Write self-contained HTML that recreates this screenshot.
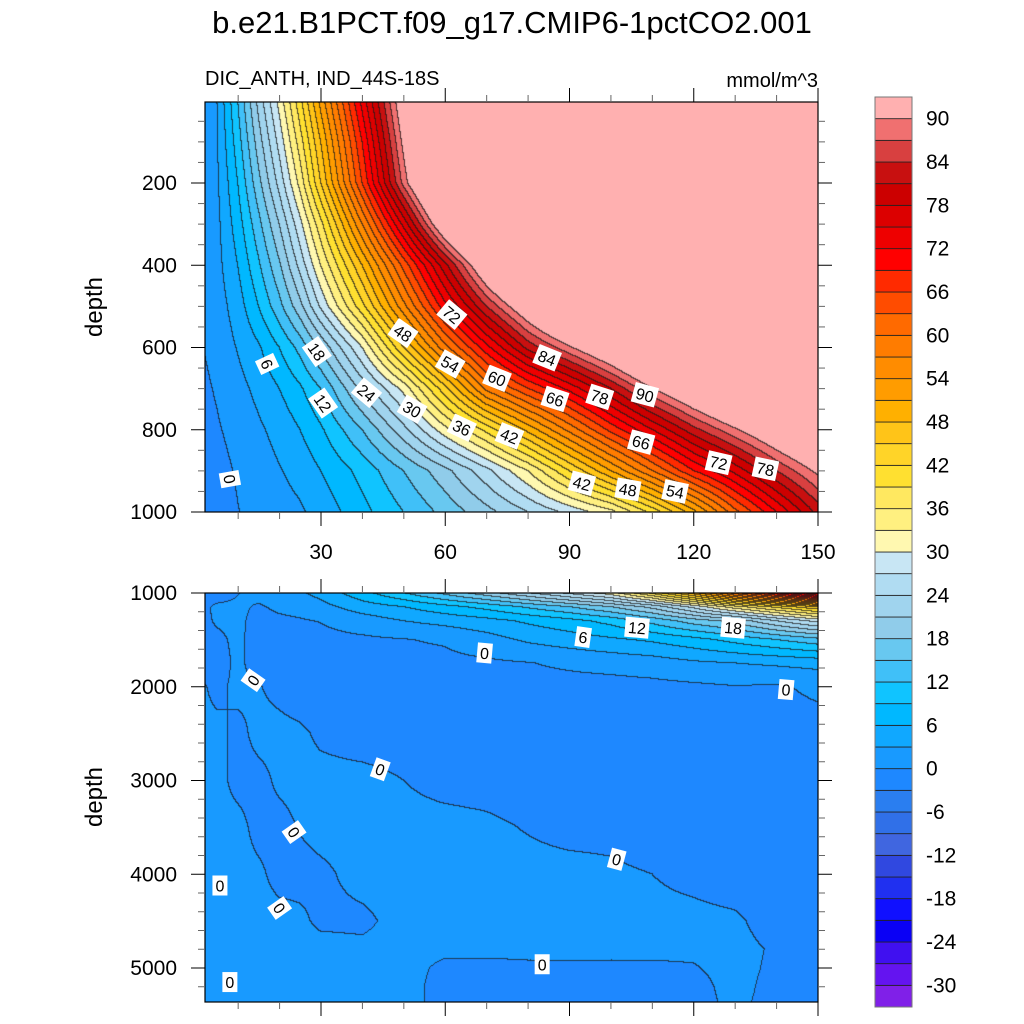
<!DOCTYPE html>
<html>
<head>
<meta charset="utf-8">
<style>
  html,body{margin:0;padding:0;background:#fff;}
  #root{position:relative;width:1024px;height:1024px;overflow:hidden;font-family:"Liberation Sans",sans-serif;}
  canvas{position:absolute;}
  svg{position:absolute;left:0;top:0;}
</style>
</head>
<body>
<div id="root">
  <canvas id="topCanvas" width="613" height="410" style="left:205px;top:102px;"></canvas>
  <canvas id="botCanvas" width="613" height="409" style="left:205px;top:593px;"></canvas>
  <svg id="overlay" width="1024" height="1024">
    <text x="512" y="33" font-size="31" text-anchor="middle" fill="#000">b.e21.B1PCT.f09_g17.CMIP6-1pctCO2.001</text>
    <text x="205" y="85" font-size="20" fill="#000">DIC_ANTH, IND_44S-18S</text>
    <text x="818" y="87" font-size="20" text-anchor="end" fill="#000">mmol/m^3</text>
    <text transform="translate(102,307) rotate(-90)" font-size="24" text-anchor="middle" fill="#000">depth</text>
    <text transform="translate(102,797) rotate(-90)" font-size="24" text-anchor="middle" fill="#000">depth</text>
    <g id="axesG"></g>
    <g id="labelsG"></g>
    <g id="cbarG"></g>
  </svg>
</div>
<script>
// ---------- DATA ----------
const timeCols = [0,5,10,15,20,25,30,40,50,60,70,80,90,100,110,120,130,140,150];
const topDepths = [0,100,200,300,400,500,600,700,800,900,1000];
const topValues = [
  [0.5,3,12,22,31,41,52,73,94,115,130,140,150,160,170,180,190,200,210],
  [0.4,2.8,10.5,19.5,28,37.5,48,69,91,111,127,138,148,158,168,178,188,198,208],
  [0.3,2.5,9,17,25,34,45,66,88,108,125,136,146,156,166,176,186,196,206],
  [0.2,2.2,7.5,14,21,29,38,57,76,96,113,128,140,150,160,170,180,190,200],
  [0,2,6,11.5,17.5,25,33,48,64,80,96,110,122,134,144,154,164,174,184],
  [-0.2,1.5,4.5,9,14,20,27.5,41,56,71,84,95,106,118,128,138,148,158,168],
  [-0.5,1,3.2,5.6,9,13,18.5,30,45,59,71,82,89.5,97,106,116,124,132,140],
  [-1,0.3,2,3.8,6,8.5,12,22,31,44,58,66,73,81,90,97,104,111,118],
  [-1.5,-0.3,1,2.5,4,6,8.5,15,23,32,40,49,58,67,75,83,89.5,96,102],
  [-2,-1,0.3,1.5,2.8,4,6,10,15,20,26,33,42,51,60,69,76,84,91],
  [-2,-1.5,-0.1,1,1.8,2.6,4,8,12,16,20,24,28,32,40,50,62,72,82]
];
const botDepths = [1000,1150,1300,1500,1750,2000,2500,3000,3500,4000,4500,4800,5000,5200,5400];
const botValues = [
  [-2,-1.5,-0.1,1,1.8,2.6,4,8,12,16,20,24,28,32,40,50,62,72,82],
  [-1,0.5,0.5,-0.3,0.5,0.8,2,4.5,6,8,10,12.5,15,18,22,28,35,40,45],
  [-1,0.3,0.5,-0.8,-0.5,-0.2,0.1,1.5,3,4,5,6.5,8,10,13,16.5,19,24,28],
  [-1,-0.5,0.5,-1,-1,-1,-0.8,-0.5,-0.1,0.3,1.8,3.5,4.5,5.5,6.5,8,10,12,14],
  [-1,-1,0.5,-1,-1,-1,-1,-0.8,-0.8,-0.7,-0.5,-0.1,0.5,1,1.5,2.5,3,3.5,4],
  [0.5,-0.5,0.5,0.1,-0.5,-1,-1,-1,-1,-1,-1,-1,-1,-1,-0.8,-0.5,-0.1,-0.3,0.5],
  [0.5,0.5,-0.5,0.5,0.5,0.3,-0.3,-0.8,-0.8,-1,-1,-1,-1,-1,-1,-1,-1,-1,-1],
  [0.5,0.5,-0.5,-0.5,0.3,0.5,0.5,0.5,0,-0.5,-0.6,-0.8,-1,-1,-1,-1,-1,-1,-1],
  [0.5,0.5,0.5,-0.5,-0.5,0.1,0.5,0.5,0.5,0.5,0.3,-0.1,-0.5,-0.5,-1,-1,-1,-1,-1],
  [0.5,0.5,0.5,0.3,-0.5,-0.5,-0.3,0.5,0.5,0.5,0.5,0.5,0.5,0.3,0,-0.5,-1,-1,-1],
  [0.5,0.5,0.5,0.5,0.5,0.3,-0.3,-0.3,0.5,0.5,0.5,0.5,0.5,0.5,0.5,0.5,0.3,-0.8,-1],
  [0.5,0.5,0.5,0.5,0.5,0.5,0.5,0.3,0.5,0.3,0.3,0.3,0.3,0.3,0.3,0.3,0.5,-0.2,-1],
  [0.5,0.5,0.5,0.5,0.5,0.5,0.5,0.5,0.5,-0.3,-0.3,-0.2,-0.2,-0.2,-0.2,-0.1,0.5,-0.3,-0.5],
  [0.5,0.5,0.5,0.5,0.5,0.5,0.5,0.5,0.5,-0.5,-0.5,-0.5,-0.5,-0.5,-0.5,-0.5,0.5,-0.5,-0.5],
  [0.5,0.5,0.5,0.5,0.5,0.5,0.5,0.5,0.5,-0.5,-0.5,-0.5,-0.5,-0.5,-0.5,-0.5,0.3,-0.5,-0.5]
];
const levelColors = ["#8020E8","#6414F0","#4010F0","#0A00F5","#1010FF","#2030F0","#3048E0","#4066E0","#3070E8","#2A7EF0","#1E88FF","#189AFF","#10A8FF","#00B8FF","#10C4FF","#40C0F8","#68C8F0","#90CCEA","#A0D4EE","#B0DCF2","#C8E6F4","#FFF8B0","#FFF080","#FFE860","#FFE030","#FFD428","#FFC418","#FFB000","#FF9C00","#FF8C00","#FF7C00","#FF6A00","#FF4C00","#FF2A00","#FF0000","#EE0000","#DC0000","#CC0000","#C81010","#D84040","#F07070","#FFB0B0"];
const cbarTickValues = [-30,-24,-18,-12,-6,0,6,12,18,24,30,36,42,48,54,60,66,72,78,84,90];
const xTickValues = [30,60,90,120,150];
const topYTicks = [200,400,600,800,1000];
const botYTicks = [1000,2000,3000,4000,5000];
const labelTexts = ["6","18","12","24","30","36","42","48","54","60","66","78","90","72","84","66","72","78","42","48","54","0",
                    "6","12","18","0","0","0","0","0","0","0","0","0","0"];
const labelPanels = ["t","t","t","t","t","t","t","t","t","t","t","t","t","t","t","t","t","t","t","t","t","t",
                     "b","b","b","b","b","b","b","b","b","b","b","b","b"];
const labelTimes = [17,29,30.5,41,52,64,75.5,49.8,61.2,72.5,86.5,97.3,108.2,61.6,84.6,107.3,126,137.3,93,104.1,115.5,8,
                    93.3,106.3,129.5,69.5,142.3,13.6,44.3,23.5,101.4,20,5.6,8,83.4];
const labelDepths = [640,610,735,710,750,795,815,565,640,675,725,720,715,520,625,830,880,895,930,945,950,920,
                     1470,1370,1370,1640,2030,1930,2880,3550,3840,4360,4120,5150,4960];
const labelAngles = [65,55,55,40,30,25,22,35,30,22,18,18,15,40,22,15,13,12,15,10,12,80,
                     8,5,5,5,5,-55,20,55,15,55,0,0,0];

// ---------- AXES ----------
const PX0 = 205, PX1 = 818;
const TOP_Y0 = 102, TOP_Y1 = 512, BOT_Y0 = 593, BOT_Y1 = 1002;
function xOf(t){ return 196.75 + t*4.1417; }
function tOf(x){ return (x-196.75)/4.1417; }
function yTop(z){ return 512 - (1000-z)*0.41125; }
function zTop(y){ return 1000 - (512-y)/0.41125; }
function yBot(z){ return 593 + (z-1000)*0.09375; }
function zBot(y){ return 1000 + (y-593)/0.09375; }

function locate(arr, v){
  if (v <= arr[0]) return [0,0];
  if (v >= arr[arr.length-1]) return [arr.length-2,1];
  let i=0; while (arr[i+1] < v) i++;
  return [i,(v-arr[i])/(arr[i+1]-arr[i])];
}
function interp(grid, rows, cols, z, t){
  const [r,fr] = locate(rows,z), [c,fc] = locate(cols,t);
  const a=grid[r][c], b=grid[r][c+1], d=grid[r+1][c], e=grid[r+1][c+1];
  return (a*(1-fc)+b*fc)*(1-fr) + (d*(1-fc)+e*fc)*fr;
}
function hexRgb(h){ return [parseInt(h.substr(1,2),16),parseInt(h.substr(3,2),16),parseInt(h.substr(5,2),16)]; }
const rgbs = levelColors.map(hexRgb);
function bandOf(v){ let b = Math.floor(v/3)+11; return Math.max(0,Math.min(41,b)); }

function drawPanel(canvasId, grid, rows, y0, zFn){
  const cv = document.getElementById(canvasId), ctx = cv.getContext('2d');
  const W = cv.width, H = cv.height;
  const bands = new Int16Array(W*H);
  for (let j=0;j<H;j++){
    const z = zFn(y0+j+0.5);
    for (let i=0;i<W;i++){
      const t = tOf(PX0+i+0.5);
      bands[j*W+i] = bandOf(interp(grid, rows, timeCols, z, t));
    }
  }
  const img = ctx.createImageData(W,H);
  for (let j=0;j<H;j++){
    for (let i=0;i<W;i++){
      const k=j*W+i, b=bands[k];
      let [r,g,bl] = rgbs[b];
      const edge = (i<W-1 && bands[k+1]!==b) || (j<H-1 && bands[k+W]!==b);
      if (edge){ r=r*0.25+20; g=g*0.25+20; bl=bl*0.25+20; }
      img.data[k*4]=r; img.data[k*4+1]=g; img.data[k*4+2]=bl; img.data[k*4+3]=255;
    }
  }
  ctx.putImageData(img,0,0);
}
drawPanel('topCanvas', topValues, topDepths, TOP_Y0, zTop);
drawPanel('botCanvas', botValues, botDepths, BOT_Y0, zBot);

const NS = "http://www.w3.org/2000/svg";
function mk(tag, attrs, parent){
  const el = document.createElementNS(NS, tag);
  for (const k in attrs) el.setAttribute(k, attrs[k]);
  parent.appendChild(el); return el;
}
const axesG = document.getElementById('axesG');
function frame(y0,y1,name){
  const r = mk('rect',{x:PX0,y:y0,width:PX1-PX0,height:y1-y0,fill:'none',stroke:'#000','stroke-width':1.2},axesG);
  
  
}
frame(TOP_Y0,TOP_Y1,'top-plot-frame');
frame(BOT_Y0,BOT_Y1,'bottom-plot-frame');
function tick(x1,y1,x2,y2,minor){
  const l = mk('line',{x1:x1,y1:y1,x2:x2,y2:y2,stroke:minor?'#666':'#000','stroke-width':1},axesG);
  
  
}
for (let t=10;t<=150;t+=10){
  const x = xOf(t), major = (t%30===0), L = major?14:7;
  tick(x,TOP_Y0,x,TOP_Y0-L,!major);
  tick(x,TOP_Y1,x,TOP_Y1+L,!major);
  tick(x,BOT_Y0,x,BOT_Y0-L,!major);
  tick(x,BOT_Y1,x,BOT_Y1+L,!major);
}
xTickValues.forEach(v=>{
  const tx = mk('text',{x:xOf(v),y:559,'font-size':21,'text-anchor':'middle',fill:'#000'},axesG);
  tx.textContent = v;
  
  
});
for (let z=50;z<=1000;z+=50){
  const y = yTop(z); if (y<TOP_Y0) continue;
  const major = (z%200===0), L = major?14:7;
  tick(PX0,y,PX0-L,y,!major); tick(PX1,y,PX1+L,y,!major);
}
topYTicks.forEach(v=>{
  const tx = mk('text',{x:177,y:yTop(v)+7,'font-size':21,'text-anchor':'end',fill:'#000'},axesG);
  tx.textContent = v;
  
  
});
for (let z=1000;z<=5400;z+=200){
  const y = yBot(z); if (y>BOT_Y1) continue;
  const major = (z%1000===0), L = major?14:7;
  tick(PX0,y,PX0-L,y,!major); tick(PX1,y,PX1+L,y,!major);
}
botYTicks.forEach(v=>{
  const tx = mk('text',{x:177,y:yBot(v)+7,'font-size':21,'text-anchor':'end',fill:'#000'},axesG);
  tx.textContent = v;
  
  
});

const labelsG = document.getElementById('labelsG');
labelTexts.forEach((txt,i)=>{
  const x = xOf(labelTimes[i]);
  const y = labelPanels[i]==='t' ? yTop(labelDepths[i]) : yBot(labelDepths[i]);
  const g = mk('g',{transform:`translate(${x},${y}) rotate(${labelAngles[i]})`},labelsG);
  
  
  const w = txt.length*9+6;
  mk('rect',{x:-w/2,y:-10,width:w,height:20,fill:'#fff'},g);
  const tx = mk('text',{x:0,y:6,'font-size':16,'text-anchor':'middle',fill:'#000'},g);
  tx.textContent = txt;
});

const cbarG = document.getElementById('cbarG');
const CB_X = 875, CB_W = 37, CB_TOP = 97, CB_BOT = 1007;
const boxH = (CB_BOT-CB_TOP)/levelColors.length;
levelColors.forEach((c,i)=>{
  const r = mk('rect',{x:CB_X,y:CB_BOT-(i+1)*boxH,width:CB_W,height:boxH,fill:c,stroke:'#222','stroke-width':0.8},cbarG);
  
  
});
mk('rect',{x:CB_X,y:CB_TOP,width:CB_W,height:CB_BOT-CB_TOP,fill:'none',stroke:'#777','stroke-width':1},cbarG);
cbarTickValues.forEach(v=>{
  const y = CB_BOT - (v/3+11)*boxH;
  const tx = mk('text',{x:926,y:y+7,'font-size':21,fill:'#000'},cbarG);
  tx.textContent = v;
  
  
});
</script>
</body>
</html>
